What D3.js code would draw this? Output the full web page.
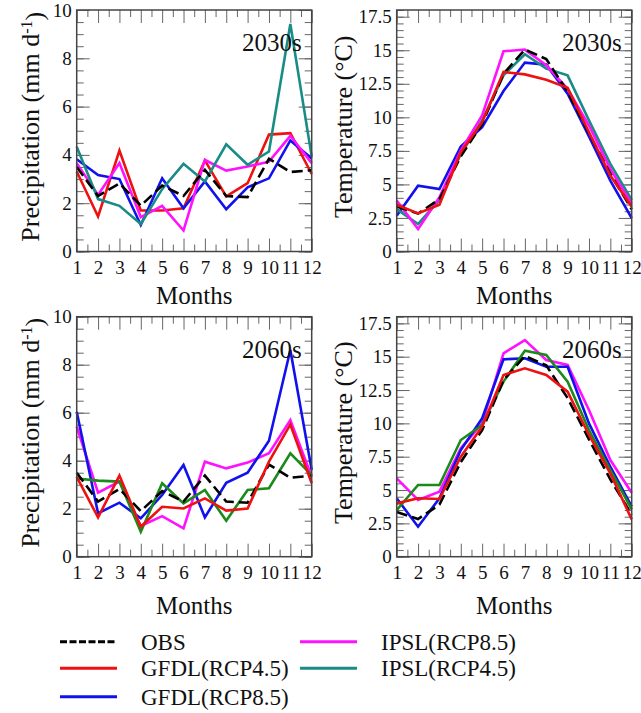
<!DOCTYPE html>
<html>
<head>
<meta charset="utf-8">
<script src="https://cdn.jsdelivr.net/npm/d3@7"></script>
<style>
  body { margin: 0; background: #fff; }
  svg { display: block; font-family: "Liberation Serif", "DejaVu Serif", serif; }
  svg text { font-family: "Liberation Serif", "DejaVu Serif", serif !important; }
</style>
</head>
<body>
<svg id="chart" width="641" height="713"></svg>
<script>
const months = [1, 2, 3, 4, 5, 6, 7, 8, 9, 10, 11, 12];

// observed climatology (same in both periods)
const precipObs = [3.5, 2.3, 2.82, 1.9, 2.73, 2.3, 3.38, 2.3, 2.25, 3.84, 3.29, 3.37];
const tempObs = [3.35, 2.83, 3.9, 7.1, 9.5, 13.25, 15.05, 14.35, 11.9, 8.8, 5.8, 3.15];

// 2030s
const precipGfdl45_2030 = [3.31, 1.45, 4.18, 1.7, 1.7, 1.79, 3.77, 2.28, 2.83, 4.84, 4.9, 3.21];
const precipGfdl85_2030 = [3.82, 3.17, 3.0, 1.1, 3.03, 1.79, 2.9, 1.75, 2.66, 3.03, 4.6, 3.85];
const precipIpsl85_2030 = [3.66, 2.34, 3.66, 1.42, 1.89, 0.87, 3.79, 3.35, 3.52, 3.72, 4.79, 3.66];
const precipIpsl45_2030 = [4.34, 2.17, 1.89, 1.14, 2.58, 3.63, 2.9, 4.44, 3.59, 4.14, 9.42, 3.93];

const tempGfdl45_2030 = [3.49, 2.84, 3.49, 7.4, 9.64, 13.38, 13.2, 12.8, 12.2, 8.89, 5.66, 3.34];
const tempGfdl85_2030 = [2.67, 4.91, 4.66, 7.82, 9.27, 11.96, 14.08, 13.93, 11.76, 8.57, 5.28, 2.49];
const tempIpsl85_2030 = [3.79, 1.67, 4.04, 7.52, 10.14, 14.92, 15.05, 13.88, 12.13, 9.39, 6.15, 3.54];
const tempIpsl45_2030 = [3.16, 2.04, 3.84, 7.27, 9.77, 13.13, 14.7, 13.63, 13.13, 9.77, 6.53, 3.84];

// 2060s
const precipGfdl45_2060 = [3.33, 1.64, 3.38, 1.25, 2.08, 2.01, 2.43, 1.92, 2.01, 3.96, 5.51, 3.06];
const precipGfdl85_2060 = [6.04, 1.81, 2.25, 1.6, 2.57, 3.82, 1.64, 3.08, 3.5, 4.83, 8.61, 3.61];
const precipIpsl85_2060 = [5.42, 2.67, 3.13, 1.28, 1.69, 1.18, 3.96, 3.68, 3.92, 4.31, 5.69, 3.33];
const precipIpsl45_2060 = [3.26, 3.17, 3.13, 1.04, 3.06, 2.22, 2.78, 1.5, 2.78, 2.85, 4.31, 3.4];

const tempGfdl45_2060 = [4.0, 4.38, 4.33, 7.5, 9.75, 13.63, 14.13, 13.63, 12.38, 9.13, 6.25, 2.8];
const tempGfdl85_2060 = [4.38, 2.25, 4.38, 8.0, 10.38, 14.8, 14.88, 14.25, 14.25, 10.0, 6.75, 3.75];
const tempIpsl85_2060 = [5.88, 4.25, 4.88, 8.13, 10.0, 15.25, 16.25, 14.75, 14.38, 11.0, 7.25, 4.8];
const tempIpsl45_2060 = [3.5, 5.38, 5.38, 8.75, 9.88, 13.13, 15.45, 15.13, 13.13, 9.5, 6.5, 3.55];

const precipTicks = [0, 2, 4, 6, 8, 10];
const tempTicks = [0, 2.5, 5, 7.5, 10, 12.5, 15, 17.5];

const names = ["OBS", "GFDL(RCP4.5)", "GFDL(RCP8.5)", "IPSL(RCP8.5)", "IPSL(RCP4.5)"];

const colors = {
  obs: "#000",
  gfdl45: "#ee1111",
  gfdl85: "#1111ee",
  ipsl85: "#ff11ff",
  ipsl45: "#1a8c86",
  ipsl45b: "#1a8a1a"
};

const panels = [
  { col: 0, row: 0, label: "2030s", kind: "precip", series: [
      ["gfdl45", precipGfdl45_2030], ["gfdl85", precipGfdl85_2030],
      ["ipsl85", precipIpsl85_2030], ["ipsl45", precipIpsl45_2030], ["obs", precipObs]] },
  { col: 1, row: 0, label: "2030s", kind: "temp", series: [
      ["gfdl85", tempGfdl85_2030], ["ipsl45", tempIpsl45_2030],
      ["ipsl85", tempIpsl85_2030], ["obs", tempObs], ["gfdl45", tempGfdl45_2030]] },
  { col: 0, row: 1, label: "2060s", kind: "precip", series: [
      ["ipsl85", precipIpsl85_2060], ["gfdl85", precipGfdl85_2060],
      ["ipsl45b", precipIpsl45_2060], ["obs", precipObs], ["gfdl45", precipGfdl45_2060]] },
  { col: 1, row: 1, label: "2060s", kind: "temp", series: [
      ["ipsl85", tempIpsl85_2060], ["gfdl85", tempGfdl85_2060],
      ["ipsl45b", tempIpsl45_2060], ["obs", tempObs], ["gfdl45", tempGfdl45_2060]] }
];

const svg = d3.select("#chart");

const colX = [[76.7, 311.7], [396.7, 631.7]];
const rowY = [[10, 251.5], [316.7, 556.7]];
const monthsY = [304, 614];
const ylabOffset = [-47, -54];
const serif = "'Liberation Serif', 'DejaVu Serif', serif";

function minorTicks(lo, hi, step) {
  const out = [];
  for (let v = lo; v <= hi + 1e-9; v += step) out.push(+v.toFixed(3));
  return out;
}

panels.forEach((p) => {
  const [xa, xb] = colX[p.col];
  const [ya, yb] = rowY[p.row];
  const x = d3.scaleLinear().domain([1, 12]).range([xa, xb]);
  const y = d3.scaleLinear()
    .domain(p.kind == "precip" ? [0, 10] : [0, 18])
    .range([yb, ya]);
  const yt = p.kind == "precip" ? precipTicks : tempTicks;
  const yMinor = minorTicks(0, y.domain()[1], 0.5);
  const xMinor = minorTicks(1.5, 11.5, 1);

  const g = svg.append("g");

  const styleTicks = (sel) => {
    sel.attr("font-family", serif).attr("font-size", 19);
    sel.select(".domain").remove();
    sel.selectAll(".tick line").attr("stroke", "#666").attr("stroke-width", 1);
    sel.selectAll(".tick text").attr("fill", "#111");
  };

  // x axes (bottom with labels, top mirrored)
  g.append("g").attr("transform", `translate(0,${yb})`)
    .call(d3.axisBottom(x).tickValues(months).tickSize(-13).tickPadding(9))
    .call(styleTicks);
  g.append("g").attr("transform", `translate(0,${yb})`)
    .call(d3.axisBottom(x).tickValues(xMinor).tickSize(-7).tickFormat(""))
    .call(styleTicks);
  g.append("g").attr("transform", `translate(0,${ya})`)
    .call(d3.axisTop(x).tickValues(months).tickSize(-13).tickFormat(""))
    .call(styleTicks);
  g.append("g").attr("transform", `translate(0,${ya})`)
    .call(d3.axisTop(x).tickValues(xMinor).tickSize(-7).tickFormat(""))
    .call(styleTicks);

  // y axes
  g.append("g").attr("transform", `translate(${xa},0)`)
    .call(d3.axisLeft(y).tickValues(yt).tickSize(-13).tickPadding(5).tickFormat(d3.format("~g")))
    .call(styleTicks);
  g.append("g").attr("transform", `translate(${xa},0)`)
    .call(d3.axisLeft(y).tickValues(yMinor).tickSize(-7).tickFormat(""))
    .call(styleTicks);
  g.append("g").attr("transform", `translate(${xb},0)`)
    .call(d3.axisRight(y).tickValues(yt).tickSize(-13).tickFormat(""))
    .call(styleTicks);
  g.append("g").attr("transform", `translate(${xb},0)`)
    .call(d3.axisRight(y).tickValues(yMinor).tickSize(-7).tickFormat(""))
    .call(styleTicks);

  const line = d3.line()
    .x((d, i) => x(months[i]))
    .y((d) => y(d));

  p.series.forEach(([key, vals]) => {
    g.append("path")
      .datum(vals)
      .attr("fill", "none")
      .attr("stroke", colors[key])
      .attr("stroke-width", 2.6)
      .attr("stroke-dasharray", key == "obs" ? "11,5" : null)
      .attr("d", line);
  });

  g.append("rect")
    .attr("x", xa).attr("y", ya)
    .attr("width", xb - xa).attr("height", yb - ya)
    .attr("fill", "none").attr("stroke", "#444").attr("stroke-width", 1.5);

  g.append("text")
    .attr("x", xb - 10).attr("y", ya + 41)
    .attr("text-anchor", "end")
    .style("font-size", "25px")
    .attr("fill", "#111")
    .text(p.label);

  g.append("text")
    .attr("x", (xa + xb) / 2).attr("y", monthsY[p.row])
    .attr("text-anchor", "middle")
    .style("font-size", "25px")
    .attr("fill", "#111")
    .text("Months");

  const yl = g.append("text")
    .attr("transform", `translate(${xa + ylabOffset[p.col]},${(ya + yb) / 2 - 4}) rotate(-90)`)
    .attr("text-anchor", "middle")
    .attr("dy", "0.35em")
    .style("font-size", "26px")
    .attr("fill", "#111");
  if (p.kind == "precip") {
    yl.append("tspan").text("Precipitation (mm d");
    yl.append("tspan").attr("dy", "-0.45em").style("font-size", "16px").text("-1");
    yl.append("tspan").attr("dy", "0.45em").text(")");
  } else {
    yl.text("Temperature (°C)");
  }
});

// legend
const legendItems = [
  { key: "obs", name: names[0], x: 60, y: 641.7 },
  { key: "gfdl45", name: names[1], x: 60, y: 668.3 },
  { key: "gfdl85", name: names[2], x: 60, y: 696.7 },
  { key: "ipsl85", name: names[3], x: 300, y: 641.7 },
  { key: "ipsl45", name: names[4], x: 300, y: 668.3 }
];

const lg = svg.append("g");
legendItems.forEach((d) => {
  lg.append("line")
    .attr("x1", d.x).attr("x2", d.x + 57)
    .attr("y1", d.y).attr("y2", d.y)
    .attr("stroke", colors[d.key])
    .attr("stroke-width", 3)
    .attr("stroke-dasharray", d.key == "obs" ? "7,2.5" : null);
  lg.append("text")
    .attr("x", d.x + 81).attr("y", d.y + 8)
    .style("font-size", "23px")
    .attr("fill", "#111")
    .text(d.name);
});
</script>
</body>
</html>
